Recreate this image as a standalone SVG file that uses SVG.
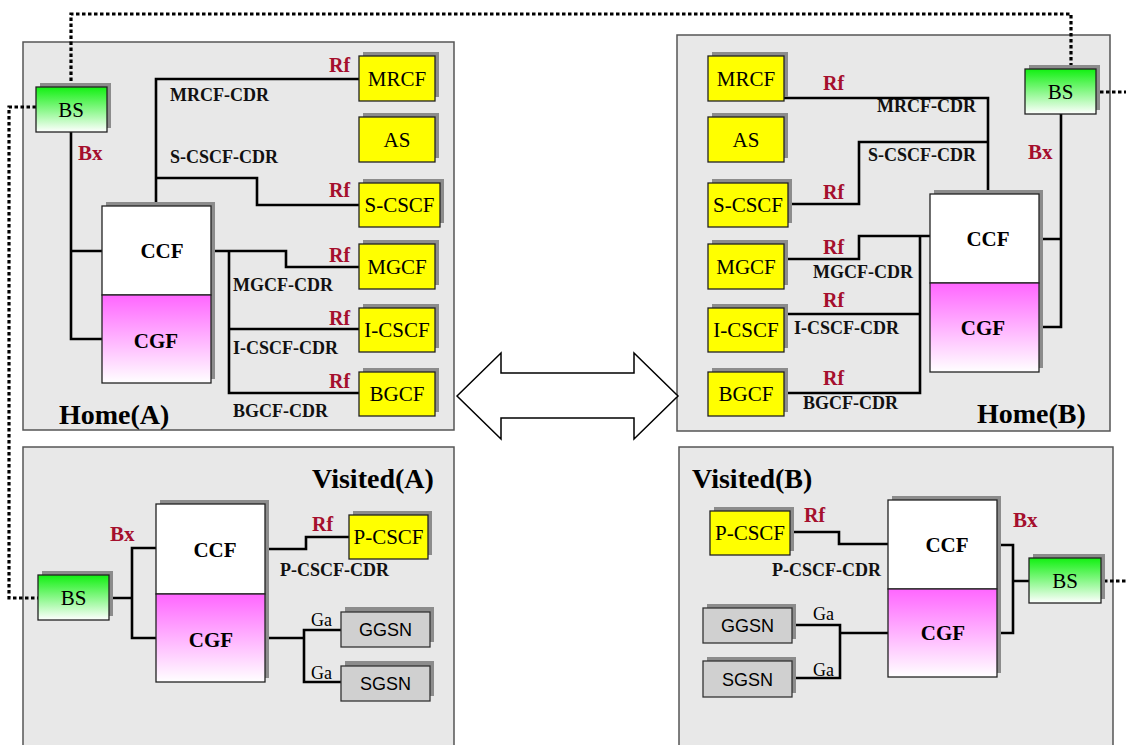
<svg xmlns="http://www.w3.org/2000/svg" width="1126" height="745" viewBox="0 0 1126 745">
<defs>
<linearGradient id="gGreen" x1="0" y1="0" x2="0" y2="1"><stop offset="0" stop-color="#11f011"/><stop offset="1" stop-color="#ffffff"/></linearGradient>
<linearGradient id="gMag" x1="0" y1="0" x2="0" y2="1"><stop offset="0" stop-color="#ff66ff"/><stop offset="1" stop-color="#ffffff"/></linearGradient>
<style>
.panel{fill:#e8e8e8;stroke:#555;stroke-width:1.5}
.sh{fill:#8c8c8c}
.yel{fill:#ffff00;stroke:#222;stroke-width:1.3}
.gry{fill:#d0d0d0;stroke:#333;stroke-width:1.3}
.bs{fill:url(#gGreen);stroke:#222;stroke-width:1.3}
.ccf{fill:#ffffff;stroke:#222;stroke-width:1.3}
.cgf{fill:url(#gMag);stroke:#222;stroke-width:1.3}
.ln{fill:none;stroke:#000;stroke-width:2.6;stroke-linejoin:miter}
.dot{fill:none;stroke:#000;stroke-width:3.2;stroke-dasharray:3.5 2.5}
.t{font-family:"Liberation Serif",serif;font-size:21px;fill:#000;text-anchor:middle}
.tb{font-family:"Liberation Serif",serif;font-size:21px;font-weight:bold;fill:#000;text-anchor:middle}
.lbl{font-family:"Liberation Serif",serif;font-size:18px;font-weight:bold;fill:#111}
.rf{font-family:"Liberation Serif",serif;font-size:20px;font-weight:bold;fill:#a50f2d}
.bx{font-family:"Liberation Serif",serif;font-size:21px;font-weight:bold;fill:#a50f2d}
.ttl{font-family:"Liberation Serif",serif;font-size:28px;font-weight:bold;fill:#000}
.ga{font-family:"Liberation Serif",serif;font-size:18px;fill:#000}
.ss{font-family:"Liberation Sans",sans-serif;font-size:18px;fill:#000;text-anchor:middle}
</style>
</defs>
<rect width="1126" height="745" fill="#ffffff"/>

<!-- panels -->
<g id="panel-homeA"><rect class="panel" x="23" y="42" width="431" height="388"/><text class="ttl" x="59" y="424">Home(A)</text></g>
<g id="panel-homeB"><rect class="panel" x="677" y="35" width="433" height="396"/><text class="ttl" x="977" y="423">Home(B)</text></g>
<g id="panel-visA"><rect class="panel" x="23" y="447" width="431" height="310"/><text class="ttl" x="312" y="488">Visited(A)</text></g>
<g id="panel-visB"><rect class="panel" x="679" y="447" width="434" height="310"/><text class="ttl" x="692" y="488">Visited(B)</text></g>

<!-- double arrow -->
<g id="double-arrow"><polygon points="457,396 501,353 501,373 634,373 634,353 678,396 634,439 634,418 501,418 501,439" fill="#ffffff" stroke="#000" stroke-width="1.5"/></g>

<!-- connectors -->
<g id="connectors">
<path class="dot" d="M71,87 V14 H1071 V69"/>
<path class="dot" d="M36,107 H9 V598 H38"/>
<path class="dot" d="M1100,92 H1126"/>
<path class="dot" d="M1104,581 H1126"/>
<!-- Home A -->
<path class="ln" d="M71,132 V339 H102 M71,251 H102"/>
<path class="ln" d="M156,206 V79 H359"/>
<path class="ln" d="M155,178 H257 V205 H359"/>
<path class="ln" d="M211,251 H286 V267 H359"/>
<path class="ln" d="M229,251 V393 H359 M229,329 H359"/>
<!-- Home B -->
<path class="ln" d="M784,98 H988 V194"/>
<path class="ln" d="M788,204 H859 V142 H988"/>
<path class="ln" d="M784,259 H859 V236 H930"/>
<path class="ln" d="M920,236 V393 H784 M920,314 H784"/>
<path class="ln" d="M1061,114 V327 H1039 M1061,239 H1039"/>
<!-- Visited A -->
<path class="ln" d="M109,598 H132 M156,548 H132 V638 H156"/>
<path class="ln" d="M265,549 H306 V537 H349"/>
<path class="ln" d="M265,638 H304 M341,630 H304 V682 H341"/>
<!-- Visited B -->
<path class="ln" d="M790,532 H839 V544 H888"/>
<path class="ln" d="M792,625 H840 V678 H792 M840,633 H888"/>
<path class="ln" d="M997,545 H1013 V633 H997 M1013,581 H1029"/>
</g>

<!-- labels -->
<g id="labels">
<text class="bx" x="78" y="160">Bx</text>
<text class="lbl" x="170" y="101">MRCF-CDR</text>
<text class="lbl" x="170" y="163">S-CSCF-CDR</text>
<text class="lbl" x="233" y="291">MGCF-CDR</text>
<text class="lbl" x="233" y="354">I-CSCF-CDR</text>
<text class="lbl" x="233" y="417">BGCF-CDR</text>
<text class="rf" x="329" y="72">Rf</text>
<text class="rf" x="329" y="197">Rf</text>
<text class="rf" x="329" y="262">Rf</text>
<text class="rf" x="329" y="325">Rf</text>
<text class="rf" x="329" y="388">Rf</text>

<text class="rf" x="823" y="90">Rf</text>
<text class="rf" x="823" y="199">Rf</text>
<text class="rf" x="823" y="254">Rf</text>
<text class="rf" x="823" y="307">Rf</text>
<text class="rf" x="823" y="385">Rf</text>
<text class="lbl" x="877" y="112">MRCF-CDR</text>
<text class="lbl" x="868" y="161">S-CSCF-CDR</text>
<text class="lbl" x="813" y="278">MGCF-CDR</text>
<text class="lbl" x="794" y="334">I-CSCF-CDR</text>
<text class="lbl" x="803" y="409">BGCF-CDR</text>
<text class="bx" x="1028" y="159">Bx</text>

<text class="bx" x="110" y="541">Bx</text>
<text class="rf" x="312" y="531">Rf</text>
<text class="lbl" x="280" y="576">P-CSCF-CDR</text>
<text class="ga" x="311" y="626">Ga</text>
<text class="ga" x="311" y="679">Ga</text>

<text class="rf" x="804" y="522">Rf</text>
<text class="lbl" x="772" y="576">P-CSCF-CDR</text>
<text class="ga" x="813" y="620">Ga</text>
<text class="ga" x="813" y="676">Ga</text>
<text class="bx" x="1013" y="527">Bx</text>
</g>

<!-- Home A nodes -->
<g id="homeA-BS"><rect class="sh" x="40" y="83" width="71" height="45"/><rect class="bs" x="36" y="87" width="71" height="45"/><text class="t" x="71" y="117" font-size="20">BS</text></g>
<g id="homeA-CCF"><rect class="sh" x="106" y="202" width="109" height="177"/><rect class="ccf" x="102" y="206" width="109" height="89"/><text class="tb" x="162" y="258">CCF</text></g>
<g id="homeA-CGF"><rect class="cgf" x="102" y="295" width="109" height="88"/><text class="tb" x="156" y="348">CGF</text></g>
<g id="homeA-MRCF"><rect class="sh" x="363" y="52" width="76" height="45"/><rect class="yel" x="359" y="56" width="76" height="45"/><text class="t" x="397" y="86">MRCF</text></g>
<g id="homeA-AS"><rect class="sh" x="363" y="113" width="76" height="45"/><rect class="yel" x="359" y="117" width="76" height="45"/><text class="t" x="397" y="147">AS</text></g>
<g id="homeA-SCSCF"><rect class="sh" x="363" y="179" width="81" height="44"/><rect class="yel" x="359" y="183" width="81" height="44"/><text class="t" x="399.5" y="212">S-CSCF</text></g>
<g id="homeA-MGCF"><rect class="sh" x="363" y="240" width="76" height="45"/><rect class="yel" x="359" y="244" width="76" height="45"/><text class="t" x="397" y="274">MGCF</text></g>
<g id="homeA-ICSCF"><rect class="sh" x="363" y="304" width="76" height="44"/><rect class="yel" x="359" y="308" width="76" height="44"/><text class="t" x="397" y="337">I-CSCF</text></g>
<g id="homeA-BGCF"><rect class="sh" x="363" y="368" width="76" height="44"/><rect class="yel" x="359" y="372" width="76" height="44"/><text class="t" x="397" y="401">BGCF</text></g>

<!-- Home B nodes -->
<g id="homeB-MRCF"><rect class="sh" x="712" y="52" width="76" height="45"/><rect class="yel" x="708" y="56" width="76" height="45"/><text class="t" x="746" y="86">MRCF</text></g>
<g id="homeB-AS"><rect class="sh" x="712" y="113" width="76" height="45"/><rect class="yel" x="708" y="117" width="76" height="45"/><text class="t" x="746" y="147">AS</text></g>
<g id="homeB-SCSCF"><rect class="sh" x="712" y="179" width="80" height="44"/><rect class="yel" x="708" y="183" width="80" height="44"/><text class="t" x="748" y="212">S-CSCF</text></g>
<g id="homeB-MGCF"><rect class="sh" x="712" y="240" width="76" height="45"/><rect class="yel" x="708" y="244" width="76" height="45"/><text class="t" x="746" y="274">MGCF</text></g>
<g id="homeB-ICSCF"><rect class="sh" x="712" y="304" width="76" height="44"/><rect class="yel" x="708" y="308" width="76" height="44"/><text class="t" x="746" y="337">I-CSCF</text></g>
<g id="homeB-BGCF"><rect class="sh" x="712" y="368" width="76" height="44"/><rect class="yel" x="708" y="372" width="76" height="44"/><text class="t" x="746" y="401">BGCF</text></g>
<g id="homeB-BS"><rect class="sh" x="1029" y="65" width="71" height="45"/><rect class="bs" x="1025" y="69" width="71" height="45"/><text class="t" x="1060.5" y="99" font-size="20">BS</text></g>
<g id="homeB-CCF"><rect class="sh" x="934" y="190" width="109" height="178"/><rect class="ccf" x="930" y="194" width="109" height="89"/><text class="tb" x="988" y="246">CCF</text></g>
<g id="homeB-CGF"><rect class="cgf" x="930" y="283" width="109" height="89"/><text class="tb" x="983" y="335">CGF</text></g>

<!-- Visited A nodes -->
<g id="visA-BS"><rect class="sh" x="42" y="571" width="71" height="45"/><rect class="bs" x="38" y="575" width="71" height="45"/><text class="t" x="73.5" y="605" font-size="20">BS</text></g>
<g id="visA-CCF"><rect class="sh" x="160" y="500" width="109" height="178"/><rect class="ccf" x="156" y="504" width="109" height="90"/><text class="tb" x="215" y="557">CCF</text></g>
<g id="visA-CGF"><rect class="cgf" x="156" y="594" width="109" height="88"/><text class="tb" x="211" y="647">CGF</text></g>
<g id="visA-PCSCF"><rect class="sh" x="353" y="511" width="79" height="44"/><rect class="yel" x="349" y="515" width="79" height="44"/><text class="t" x="388.5" y="544" font-size="18.5">P-CSCF</text></g>
<g id="visA-GGSN"><rect class="sh" x="345" y="607" width="89" height="35"/><rect class="gry" x="341" y="612" width="89" height="35"/><text class="ss" x="385.5" y="636">GGSN</text></g>
<g id="visA-SGSN"><rect class="sh" x="345" y="661" width="89" height="35"/><rect class="gry" x="341" y="666" width="89" height="35"/><text class="ss" x="385.5" y="690">SGSN</text></g>

<!-- Visited B nodes -->
<g id="visB-PCSCF"><rect class="sh" x="714" y="507" width="80" height="44"/><rect class="yel" x="710" y="511" width="80" height="44"/><text class="t" x="750" y="540" font-size="18.5">P-CSCF</text></g>
<g id="visB-CCF"><rect class="sh" x="892" y="496" width="109" height="177"/><rect class="ccf" x="888" y="500" width="109" height="89"/><text class="tb" x="947" y="552">CCF</text></g>
<g id="visB-CGF"><rect class="cgf" x="888" y="589" width="109" height="88"/><text class="tb" x="943" y="640">CGF</text></g>
<g id="visB-GGSN"><rect class="sh" x="707" y="604" width="89" height="35"/><rect class="gry" x="703" y="608" width="89" height="35"/><text class="ss" x="747.5" y="632">GGSN</text></g>
<g id="visB-SGSN"><rect class="sh" x="707" y="657" width="89" height="36"/><rect class="gry" x="703" y="661" width="89" height="36"/><text class="ss" x="747.5" y="686">SGSN</text></g>
<g id="visB-BS"><rect class="sh" x="1033" y="554" width="72" height="45"/><rect class="bs" x="1029" y="558" width="72" height="45"/><text class="t" x="1065" y="588" font-size="20">BS</text></g>
</svg>
